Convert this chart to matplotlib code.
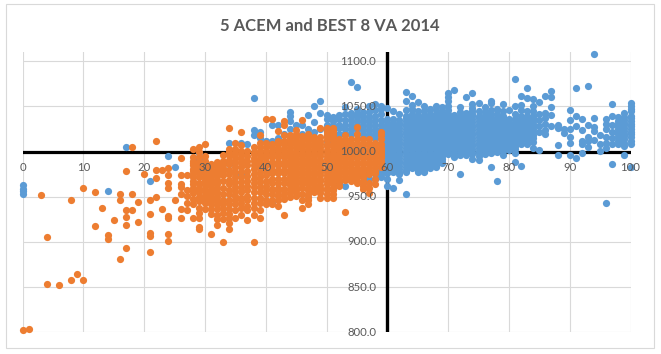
import matplotlib
matplotlib.use("Agg")
import matplotlib.pyplot as plt
from matplotlib.patches import Rectangle

W, H = 661, 354
TITLE = "5 ACEM and BEST 8 VA 2014"
x_ticks = list(range(0, 101, 10))
y_ticks = [800, 850, 900, 950, 1000, 1050, 1100]

orange_sparse = [
    (0, [802]), (1, [804]), (3, [952]), (4, [905, 853]), (6, [852]), (8, [946, 858]), (9, [864]),
    (10, [960, 858]), (12, [955, 918]), (13, [938]), (14, [908, 903]), (15, [924]),
    (16, [953, 947, 881]), (17, [979, 935, 928, 919, 893]), (18, [1005, 953, 935]), (19, [944, 922]),
    (20, [975]), (21, [947, 931, 910, 907, 889]), (22, [1012, 980, 971, 950]), (23, [980, 937]),
    (24, [982, 974, 965, 960, 929, 926, 909, 901]), (25, [946]),
    (26, [993, 974, 964, 961, 953, 937, 927]), (27, [974, 957, 951, 943, 935]),
    (28, [1003, 990, 985, 979, 972, 964, 954, 942, 926]),
    (29, [1005, 994, 983, 972, 965, 950, 932, 926, 917, 914]),
]
orange_left = [
    (30, [1008, 995, 981, 975, 969, 963, 958, 943, 937]),
    (31, [986, 980, 975, 969, 964, 958, 953, 948, 942, 931, 909]),
    (32, [988, 980, 973, 964, 950, 936, 919]),
    (33, [996, 986, 979, 968, 953, 938, 925, 900]),
    (34, [1026, 1003, 996, 986, 975, 964, 953, 942, 931, 921, 914]),
    (35, [1010, 1003, 994, 983, 972, 961, 951, 942, 927]),
    (36, [1022, 1007, 1001, 992, 983, 972, 961, 949, 938]),
    (37, [1001, 990, 979, 968, 957, 946, 924]),
    (38, [1005, 997, 990, 981, 970, 961, 949, 938, 900]),
    (39, [1018, 1010, 1001, 992, 983, 972, 961, 949, 927]),
    (40, [1036, 1010, 1001, 994, 985, 974, 962, 953, 942]),
    (41, [1036, 1008, 1001, 994, 985, 976, 965, 953, 942]),
    (42, [1023, 1012, 1003, 994, 985, 976, 965, 956, 946]),
    (43, [1034, 1029, 1018, 1008, 1001, 994, 985, 976, 965, 953, 930]),
    (44, [1018, 1012, 1005, 998, 991, 984, 977, 970, 963, 955]),
]
orange_right = [
    (45, [1024, 1016, 1008, 1000, 993, 986, 979, 972, 965, 958, 951]),
    (46, [1035, 1017, 1010, 1003, 996, 989, 982, 975, 968, 960, 947, 938]),
    (47, [1020, 1013, 1006, 999, 992, 985, 978, 971, 964, 957, 950, 942]),
    (48, [1016, 1010, 1003, 996, 989, 982, 975, 968, 961, 955]),
    (49, [1026, 1016, 1009, 1002, 995, 988, 981, 974, 967, 960, 954, 949]),
    (50, [1026, 1020, 1013, 1006, 999, 992, 985, 978, 971, 964, 957, 949]),
    (51, [1026, 1020, 1013, 1006, 999, 992, 985, 978, 971, 964, 957, 949]),
    (52, [1014, 1008, 1001, 994, 987, 980, 973, 966, 962]),
    (53, [1018, 1011, 1004, 997, 990, 983, 976, 969, 933]),
    (54, [1014, 1007, 1000, 993, 986, 979, 972, 967]),
    (55, [1027, 1014, 1007, 1000, 993, 986, 979, 972, 965]),
    (56, [1014, 1007, 1000, 993, 986, 979, 972, 965, 959]),
    (57, [1014, 1007, 1000, 993, 986, 979, 954]),
    (58, [1010, 1004, 997, 990, 983, 976, 964]),
    (59, [1022, 1018, 1014, 1008, 1001, 994, 987, 983]),
]
orange_dense_a = [
    (28, [994, 987, 981, 975, 968, 960, 957, 948]),
    (29, [1000, 988, 978, 960, 955, 945, 938]),
    (30, [990, 986, 978, 972, 966, 952, 948]),
    (31, [983, 978, 972, 966, 961, 955, 950, 945, 936]),
    (32, [984, 976, 969, 960, 955, 945, 941, 930, 925]),
    (33, [990, 982, 974, 960, 947, 943, 932]),
    (34, [1000, 991, 980, 969, 958, 947, 936, 926]),
    (35, [998, 988, 977, 966, 956, 946, 935]),
    (36, [997, 987, 977, 966, 955, 943, 930]),
    (37, [995, 985, 973, 962, 951, 940, 935]),
    (38, [1000, 993, 985, 975, 965, 955, 943, 930]),
    (39, [1005, 996, 987, 977, 966, 955, 943, 935]),
    (40, [1005, 997, 989, 979, 968, 957, 947]),
    (41, [1005, 997, 989, 980, 970, 959, 947]),
    (42, [1008, 998, 989, 980, 970, 960, 951, 940]),
    (43, [1012, 1004, 997, 989, 980, 970, 959, 948]),
    (44, [1015, 1008, 1001, 994, 987, 980, 973, 966, 959, 950]),
]
orange_dense_b = [
    (45, [1020, 1012, 1004, 996, 989, 982, 975, 968, 961, 954]),
    (46, [1013, 1006, 999, 992, 985, 978, 971, 964, 953]),
    (47, [1016, 1009, 1002, 995, 988, 981, 974, 967, 960, 953, 946]),
    (48, [1013, 1006, 999, 992, 985, 978, 971, 964, 958]),
    (49, [1012, 1005, 998, 991, 984, 977, 970, 963, 957]),
    (50, [1023, 1016, 1009, 1002, 995, 988, 981, 974, 967, 960, 953]),
    (51, [1023, 1016, 1009, 1002, 995, 988, 981, 974, 967, 960, 953]),
    (52, [1011, 1004, 997, 990, 983, 976, 969]),
    (53, [1014, 1007, 1000, 993, 986, 979, 972]),
    (54, [1010, 1003, 996, 989, 982, 975, 970]),
    (55, [1020, 1010, 1003, 996, 989, 982, 975, 968]),
    (56, [1010, 1003, 996, 989, 982, 975, 968, 962]),
    (57, [1010, 1003, 996, 989, 982, 975, 965, 960]),
    (58, [1007, 1000, 993, 986, 979, 970]),
    (59, [1004, 997, 990]),
]
blue_left = [
    (0, [963, 959, 956, 953]), (14, [956]), (17, [1005]), (21, [967]), (24, [995]), (25, [983]),
    (29, [998, 992]), (34, [1010, 986]), (36, [1010, 975]), (37, [1008]), (38, [1059, 1024, 1018]),
    (39, [1022, 1015]), (40, [1012]), (41, [1029, 1012, 943]), (42, [1030, 1015]), (43, [1020, 1010]),
    (44, [1044, 1040, 1034, 1025, 998]), (45, [1030]), (46, [1029, 1020]), (47, [1041, 1025]),
    (48, [1050, 1033, 1022]), (49, [1056, 1043, 1025]), (50, [1041, 1030, 1022]), (51, [1038, 1030]),
    (52, [1041, 1030, 1020, 965]), (53, [1049, 1035, 1025, 962]), (54, [1077, 1043, 1035, 1025]),
    (55, [1072, 1047, 1038, 1028, 1020]), (56, [1044, 1035, 1025, 973]),
    (57, [1050, 1038, 1028, 1018, 970]), (58, [1053, 1040, 1030, 1020, 975]),
    (59, [1051, 1047, 1035, 1025, 972]),
]
blue_middle = [
    (60, [1048, 1036, 1030, 1024, 1018, 1012, 1006, 1000, 994, 988, 982, 976, 962]),
    (61, [1045, 1028, 1022, 1016, 1010, 1004, 998, 992, 986, 980, 960]),
    (62, [1042, 1032, 1026, 1020, 1014, 1008, 1002, 996, 990, 984, 978, 969]),
    (63, [1066, 1056, 1040, 1034, 1028, 1022, 1016, 1010, 1004, 998, 992, 986, 980, 953]),
    (64, [1062, 1047, 1038, 1032, 1026, 1020, 1014, 1008, 1002, 996, 990, 984]),
    (65, [1055, 1045, 1036, 1030, 1024, 1018, 1012, 1006, 1000, 994, 988, 982, 977]),
    (66, [1051, 1041, 1035, 1029, 1023, 1017, 1011, 1005, 999, 993, 987, 981, 977]),
    (67, [1047, 1038, 1032, 1026, 1020, 1014, 1008, 1002, 996, 990, 984]),
    (68, [1051, 1042, 1036, 1030, 1024, 1018, 1012, 1006, 1000, 994, 988, 983]),
    (69, [1049, 1040, 1034, 1028, 1022, 1016, 1010, 1004, 998, 992, 987]),
    (70, [1065, 1056, 1050, 1042, 1036, 1030, 1024, 1018, 1012, 1006, 1000, 997]),
    (71, [1068, 1038, 1032, 1026, 1020, 1014, 1008, 1002, 997]),
    (72, [1049, 1044, 1036, 1030, 1024, 1018, 1012, 1006, 1000, 975]),
    (73, [1061, 1040, 1034, 1028, 1022, 1016, 1010, 1004, 998, 996]),
    (74, [1065, 1053, 1045, 1039, 1033, 1027, 1021, 1015, 1009, 1003, 997, 992]),
    (75, [1054, 1040, 1034, 1028, 1022, 1016, 1010, 1004, 998, 991]),
    (76, [1049, 1044, 1038, 1032, 1026, 1020, 1014, 1008, 1002, 997]),
    (77, [1056, 1054, 1046, 1038, 1032, 1026, 1020, 1014, 1008, 1002, 998, 983]),
    (78, [1047, 1036, 1030, 1024, 1018, 1012, 1006, 1000, 967]),
    (79, [1053, 1040, 1034, 1028, 1022, 1016, 1010, 1004, 996]),
]
blue_right = [
    (80, [1046, 1032, 1026, 1020, 1014, 1008, 1002]),
    (81, [1080, 1051, 1036, 1030, 1024, 1018, 1012, 1006, 999, 988]),
    (82, [1062, 1052, 1046, 1036, 1030, 1024, 1018, 1012, 984]),
    (83, [1071, 1059, 1040, 1034, 1028, 1022, 1016, 1008]),
    (84, [1058, 1050, 1045, 1040, 1034, 1028, 1022, 1015, 1004]),
    (85, [1055, 1042, 1035, 1028, 1022, 1002]),
    (86, [1062, 1043, 1037, 1031, 1024, 1020]),
    (87, [1067, 1061, 1049, 1041, 1028]),
    (88, [1030, 1026, 1007, 996]), (89, [1025, 1021]),
    (90, [1046, 1035, 1025, 1016, 1010, 996]), (91, [1071, 1039, 1028, 993]),
    (92, [1036, 1024, 1012, 1008, 999]), (93, [1073, 1029, 1016, 1012, 1005]),
    (94, [1108, 1037, 1027, 1023, 1013]), (95, [1018, 1008, 1001]),
    (96, [1036, 1031, 1025, 1016, 1010, 1004, 943]),
    (97, [1053, 1040, 1030, 1022, 1015, 1008, 986]),
    (98, [1038, 1034, 1028, 1022, 1016, 1012]),
    (99, [1043, 1038, 1032, 1026, 1020, 1014, 996]),
    (100, [1054, 1050, 1045, 1040, 1034, 1028, 1022, 1016, 1012, 983]),
]
blue_dense_a = [
    (50, [1036, 1026, 1018, 1012]), (51, [1034, 1025, 1018, 1012]), (52, [1036, 1026, 1018]),
    (53, [1042, 1030, 1021]), (54, [1040, 1030, 1020]), (55, [1042, 1033, 1024]),
    (56, [1040, 1030, 1020, 1015]), (57, [1044, 1033, 1023, 978]),
    (58, [1046, 1035, 1025, 1015, 970]), (59, [1042, 1030, 1020, 1010, 980, 975]),
    (60, [1033, 1027, 1021, 1015, 1009, 1003, 997, 991, 985, 979, 970]),
    (61, [1036, 1031, 1025, 1019, 1013, 1007, 1001, 995, 989, 983, 977]),
    (62, [1035, 1029, 1023, 1017, 1011, 1005, 999, 993, 987, 981, 975]),
    (63, [1046, 1037, 1031, 1025, 1019, 1013, 1007, 1001, 995, 989, 983, 977]),
    (64, [1052, 1042, 1035, 1029, 1023, 1017, 1011, 1005, 999, 993, 987, 982]),
    (65, [1040, 1033, 1027, 1021, 1015, 1009, 1003, 997, 991, 985, 979]),
    (66, [1045, 1038, 1032, 1026, 1020, 1014, 1008, 1002, 996, 990, 984, 979]),
    (67, [1042, 1035, 1029, 1023, 1017, 1011, 1005, 999, 993, 987, 982]),
    (68, [1046, 1039, 1033, 1027, 1021, 1015, 1009, 1003, 997, 991, 985]),
    (69, [1044, 1037, 1031, 1025, 1019, 1013, 1007, 1001, 995, 989]),
]
blue_dense_b = [
    (70, [1060, 1046, 1039, 1033, 1027, 1021, 1015, 1009, 1003, 998]),
    (71, [1041, 1035, 1029, 1023, 1017, 1011, 1005, 1000, 994]),
    (72, [1040, 1033, 1027, 1021, 1015, 1009, 1003, 996]),
    (73, [1043, 1037, 1031, 1025, 1019, 1013, 1007, 1001]),
    (74, [1048, 1042, 1036, 1030, 1024, 1018, 1012, 1006, 1000]),
    (75, [1045, 1037, 1031, 1025, 1019, 1013, 1007, 1001, 995]),
    (76, [1041, 1035, 1029, 1023, 1017, 1011, 1005, 999]),
    (77, [1042, 1035, 1029, 1023, 1017, 1011, 1005, 1000]),
    (78, [1042, 1033, 1027, 1021, 1015, 1009, 1003]),
    (79, [1045, 1037, 1031, 1025, 1019, 1013, 1007, 1001]),
    (80, [1036, 1029, 1023, 1017, 1011, 1005]),
    (81, [1042, 1033, 1027, 1021, 1015, 1009, 1003]),
    (82, [1040, 1033, 1027, 1021, 1015, 1009]),
    (83, [1045, 1037, 1031, 1025, 1019, 1013]),
    (84, [1037, 1031, 1025, 1018, 1011]),
    (98, [1031, 1025, 1019, 1008]),
    (99, [1035, 1029, 1023, 1017, 1010, 1006]),
    (100, [1047, 1037, 1031, 1025, 1019, 1009]),
]


def flatten(*groups):
    xs, ys = [], []
    for group in groups:
        for x, values in group:
            xs.extend([x] * len(values))
            ys.extend(values)
    return xs, ys


GRAY = "#595959"
GRID = "#D9D9D9"
fig = plt.figure(figsize=(W / 100, H / 100), dpi=100, facecolor="white")
fig.patches.append(Rectangle((5.5 / W, 1 - 348 / H), 648.5 / W, 344.5 / H, transform=fig.transFigure,
                             fill=False, edgecolor=GRID, linewidth=0.8))
ax = fig.add_axes([22.5 / W, 1 - 332.3 / H, 608 / W, 280 / H])
ax.set_xlim(0, 100)
ax.set_ylim(800, 1110)
ax.patch.set_visible(False)
for spine in ax.spines.values():
    spine.set_visible(False)
ax.set_xticks(x_ticks)
ax.set_yticks(y_ticks)
ax.tick_params(left=False, bottom=False, labelleft=False, labelbottom=False)
ax.grid(True, color=GRID, linewidth=0.8, zorder=0)
ax.set_axisbelow(True)
ax.axhline(1000, color="black", linewidth=2.3, zorder=1.5)
ax.axvline(60, color="black", linewidth=2.4, zorder=1.5)

bx, by = flatten(blue_left, blue_middle, blue_right, blue_dense_a, blue_dense_b)
ox, oy = flatten(orange_sparse, orange_left, orange_right, orange_dense_a, orange_dense_b)
ax.scatter(bx, by, s=27, color="#5B9BD5", linewidths=0, zorder=3, clip_on=False)
ax.scatter(ox, oy, s=27, color="#ED7D31", linewidths=0, zorder=4, clip_on=False)

for t in x_ticks:
    ax.annotate(str(t), (t, 1000), xytext=(0, -16), textcoords="offset pixels", ha="center", va="center",
                fontsize=8.2, family="Lato", color=GRAY, zorder=6)
for t in y_ticks:
    ax.annotate(f"{t:.1f}", (60, t), xytext=(-11, 0), textcoords="offset pixels", ha="right", va="center",
                fontsize=8.2, family="Lato", color=GRAY, zorder=6)
fig.text(330 / W, 1 - 26 / H, TITLE, ha="center", va="center", fontsize=12, family="Lato", weight="bold", color=GRAY)
fig.savefig("out.png", dpi=100)
